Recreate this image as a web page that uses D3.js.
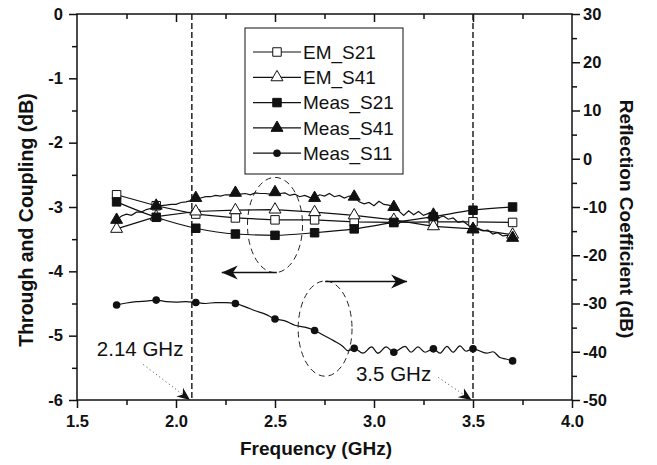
<!DOCTYPE html>
<html>
<head>
<meta charset="utf-8">
<script src="https://d3js.org/d3.v7.min.js"></script>
<style>
  body { margin: 0; background: #fff; }
  text { font-family: "Liberation Sans", Arial, sans-serif; }
</style>
</head>
<body>
<div class="chart"></div>
<script>
// Frequencies of the marker points (GHz)
var freqs = [1.7, 1.9, 2.1, 2.3, 2.5, 2.7, 2.9, 3.1, 3.3, 3.5, 3.7];

// Left axis series (dB)
var emS21   = [-2.81, -2.98, -3.11, -3.17, -3.20, -3.20, -3.23, -3.24, -3.23, -3.23, -3.24];
var emS41   = [-3.34, -3.15, -3.07, -3.05, -3.04, -3.08, -3.13, -3.20, -3.30, -3.34, -3.43];
var measS21 = [-2.92, -3.16, -3.33, -3.42, -3.44, -3.40, -3.34, -3.24, -3.15, -3.05, -3.00];
var measS41 = [-3.20, -2.98, -2.86, -2.78, -2.77, -2.86, -2.84, -3.00, -3.12, -3.35, -3.48];
// Right axis series (dB)
var measS11 = [-30.3, -29.3, -29.8, -30.0, -33.2, -35.6, -39.3, -40.1, -39.4, -39.4, -41.9];

// Dense measured trace of S41 [GHz, dB]
var s41Trace = [
  [1.700,-3.20],[1.725,-3.14],[1.750,-3.11],[1.775,-3.13],[1.800,-3.08],[1.825,-3.08],[1.850,-3.04],[1.875,-3.02],
  [1.900,-2.98],[1.925,-2.98],[1.950,-2.97],[1.975,-2.96],[2.000,-2.96],[2.025,-2.93],[2.050,-2.92],[2.075,-2.90],
  [2.100,-2.86],[2.125,-2.86],[2.150,-2.84],[2.175,-2.84],[2.200,-2.82],[2.225,-2.83],[2.250,-2.81],[2.275,-2.81],
  [2.300,-2.78],[2.325,-2.80],[2.350,-2.79],[2.375,-2.81],[2.400,-2.78],[2.425,-2.79],[2.450,-2.79],[2.475,-2.80],
  [2.500,-2.77],[2.525,-2.79],[2.550,-2.78],[2.575,-2.82],[2.600,-2.80],[2.625,-2.84],[2.650,-2.82],[2.675,-2.85],
  [2.700,-2.86],[2.725,-2.81],[2.750,-2.83],[2.775,-2.79],[2.800,-2.84],[2.825,-2.82],[2.850,-2.86],[2.875,-2.83],
  [2.900,-2.84],[2.925,-2.92],[2.950,-2.95],[2.975,-2.93],[3.000,-2.98],[3.025,-2.91],[3.050,-2.96],[3.075,-2.97],
  [3.100,-3.00],[3.125,-3.06],[3.150,-3.13],[3.175,-3.06],[3.200,-3.12],[3.225,-3.07],[3.250,-3.13],[3.275,-3.10],
  [3.300,-3.12],[3.325,-3.17],[3.350,-3.14],[3.375,-3.19],[3.400,-3.17],[3.425,-3.24],[3.450,-3.22],[3.475,-3.28],
  [3.500,-3.35],[3.525,-3.33],[3.550,-3.37],[3.575,-3.36],[3.600,-3.42],[3.625,-3.40],[3.650,-3.45],[3.675,-3.44],
  [3.700,-3.48]
];

// Dense measured trace of S11 [GHz, dB]
var s11Trace = [
  [1.70,-30.3],[1.75,-29.9],[1.80,-29.6],[1.85,-29.5],[1.90,-29.3],[1.95,-29.6],[2.00,-29.7],[2.05,-29.6],
  [2.10,-29.8],[2.15,-30.0],[2.20,-29.8],[2.25,-29.8],[2.30,-30.0],[2.35,-30.7],[2.40,-31.5],[2.45,-32.2],
  [2.50,-33.2],[2.55,-33.6],[2.60,-34.5],[2.65,-34.9],[2.70,-35.6],[2.75,-36.7],[2.80,-37.8],[2.84,-38.8],
  [2.87,-39.8],[2.90,-39.3],[2.944,-40.3],[2.988,-39.0],[3.020,-40.3],[3.061,-39.0],[3.100,-40.1],[3.157,-38.9],
  [3.187,-40.1],[3.222,-39.0],[3.258,-40.1],[3.300,-39.4],[3.333,-40.3],[3.369,-38.9],[3.399,-40.1],[3.434,-38.8],
  [3.465,-39.9],[3.500,-39.4],[3.569,-40.3],[3.601,-40.0],[3.636,-41.2],[3.667,-41.5],[3.700,-41.9]
];

// Axis ticks
var xTicks = [1.5, 2.0, 2.5, 3.0, 3.5, 4.0];
var yLeftTicks = [0, -1, -2, -3, -4, -5, -6];
var yRightTicks = [30, 20, 10, 0, -10, -20, -30, -40, -50];

// Legend
var legendNames = ["EM_S21", "EM_S41", "Meas_S21", "Meas_S41", "Meas_S11"];

// SVG area
var svgWidth = 657;
var svgHeight = 465;
var margin = { top: 14, right: 85, bottom: 65, left: 77 };
var width = svgWidth - margin.left - margin.right;
var height = svgHeight - margin.top - margin.bottom;

var svg = d3.select(".chart")
  .append("svg")
  .attr("width", svgWidth)
  .attr("height", svgHeight);

var chartGroup = svg.append("g")
  .attr("transform", `translate(${margin.left}, ${margin.top})`);

// Scales
var x = d3.scaleLinear().domain([1.5, 4.0]).range([0, width]);
var yL = d3.scaleLinear().domain([-6, 0]).range([height, 0]);
var yR = d3.scaleLinear().domain([-50, 30]).range([height, 0]);

var ink = "#111";

// Axes
function styleAxis(g) {
  g.select(".domain").remove();
  g.selectAll("line").attr("stroke", ink).attr("stroke-width", 1.5);
  g.selectAll("text")
    .attr("font-size", "16.5px")
    .attr("font-weight", "bold")
    .attr("fill", ink);
}
var fmt1 = d3.format(".1f");
var fmtInt = d => String(d);   // plain hyphen minus like the original

chartGroup.append("g")
  .attr("transform", `translate(0, ${height})`)
  .call(d3.axisBottom(x).tickValues(xTicks).tickFormat(fmt1).tickSize(8).tickPadding(7))
  .call(styleAxis);
chartGroup.append("g")
  .attr("transform", `translate(0, ${height})`)
  .call(d3.axisBottom(x).tickValues(d3.range(1.75, 4, 0.5)).tickFormat("").tickSize(5))
  .call(styleAxis);
// top axis, ticks inward
chartGroup.append("g")
  .call(d3.axisBottom(x).tickValues(xTicks.slice(1, -1)).tickFormat("").tickSize(8))
  .call(styleAxis);
chartGroup.append("g")
  .call(d3.axisBottom(x).tickValues(d3.range(1.75, 4, 0.5)).tickFormat("").tickSize(5))
  .call(styleAxis);

chartGroup.append("g")
  .call(d3.axisLeft(yL).tickValues(yLeftTicks).tickFormat(fmtInt).tickSize(8).tickPadding(6))
  .call(styleAxis);
chartGroup.append("g")
  .call(d3.axisLeft(yL).tickValues(d3.range(-5.5, 0, 1)).tickFormat("").tickSize(5))
  .call(styleAxis);

chartGroup.append("g")
  .attr("transform", `translate(${width}, 0)`)
  .call(d3.axisRight(yR).tickValues(yRightTicks).tickFormat(fmtInt).tickSize(8).tickPadding(3))
  .call(styleAxis);
chartGroup.append("g")
  .attr("transform", `translate(${width}, 0)`)
  .call(d3.axisRight(yR).tickValues(d3.range(-45, 30, 10)).tickFormat("").tickSize(5))
  .call(styleAxis);

// frame
chartGroup.append("rect")
  .attr("width", width).attr("height", height)
  .attr("fill", "none").attr("stroke", ink).attr("stroke-width", 1.5);

// Dashed frequency markers
[2.08, 3.5].forEach(function(f) {
  chartGroup.append("line")
    .attr("x1", x(f)).attr("x2", x(f))
    .attr("y1", 0).attr("y2", height)
    .attr("stroke", "#222").attr("stroke-width", 1.5)
    .attr("stroke-dasharray", "6,3");
});

// Lines
var lineL = d3.line().x((d, i) => x(freqs[i])).y(d => yL(d));
var traceL = d3.line().x(d => x(d[0])).y(d => yL(d[1]));
var traceR = d3.line().x(d => x(d[0])).y(d => yR(d[1])).curve(d3.curveMonotoneX);

function addPath(dStr) {
  chartGroup.append("path")
    .attr("d", dStr)
    .attr("fill", "none")
    .attr("stroke", ink)
    .attr("stroke-width", 1.2);
}
addPath(lineL(emS21));
addPath(lineL(emS41));
addPath(lineL.curve(d3.curveMonotoneX)(measS21));
addPath(traceL(s41Trace));
addPath(traceR(s11Trace));

// Markers
var sq = d3.symbol().type(d3.symbolSquare).size(72);
var tri = d3.symbol().type(d3.symbolTriangle).size(62);

function addMarkers(vals, yScale, gen, fill) {
  chartGroup.selectAll(null)
    .data(vals)
    .enter()
    .append("path")
    .attr("d", gen)
    .attr("transform", (d, i) => `translate(${x(freqs[i])}, ${yScale(d)})`)
    .attr("fill", fill)
    .attr("stroke", ink)
    .attr("stroke-width", 1);
}
addMarkers(emS21, yL, sq(), "#fff");
addMarkers(emS41, yL, tri(), "#fff");
addMarkers(measS21, yL, sq(), ink);
addMarkers(measS41, yL, tri(), ink);
chartGroup.selectAll(null)
  .data(measS11)
  .enter()
  .append("circle")
  .attr("cx", (d, i) => x(freqs[i]))
  .attr("cy", d => yR(d))
  .attr("r", 3.8)
  .attr("fill", ink);

// Dashed ellipses
function ellipse(cf, cv, rxF, ryV) {
  chartGroup.append("ellipse")
    .attr("cx", x(cf)).attr("cy", yL(cv))
    .attr("rx", x(cf + rxF) - x(cf)).attr("ry", yL(cv - ryV) - yL(cv))
    .attr("fill", "none").attr("stroke", "#222").attr("stroke-width", 1)
    .attr("stroke-dasharray", "6,4");
}
ellipse(2.5, -3.28, 0.139, 0.74);
ellipse(2.753, -4.89, 0.136, 0.74);

// Arrows
function arrowHead(px, py, ang, len, half) {
  var p = [[0, 0], [-len, -half], [-len * 0.7, 0], [-len, half]];
  chartGroup.append("path")
    .attr("d", "M" + p.map(q => q.join(",")).join("L") + "Z")
    .attr("transform", `translate(${px}, ${py}) rotate(${ang})`)
    .attr("fill", ink);
}
function arrow(f1, v1, f2, v2, dotted, len, half) {
  var x1 = x(f1), y1 = yL(v1), x2 = x(f2), y2 = yL(v2);
  var ang = Math.atan2(y2 - y1, x2 - x1) * 180 / Math.PI;
  chartGroup.append("line")
    .attr("x1", x1).attr("y1", y1).attr("x2", x2).attr("y2", y2)
    .attr("stroke", dotted ? "#444" : ink)
    .attr("stroke-width", dotted ? 1 : 1.5)
    .attr("stroke-dasharray", dotted ? "1,3" : null);
  arrowHead(x2, y2, ang, len, half);
}
arrow(2.509, -4.02, 2.231, -4.02, false, 16, 7);
arrow(2.753, -4.157, 3.167, -4.157, false, 16, 7);
arrow(1.835, -5.45, 2.071, -6.0, true, 13, 5.5);
arrow(3.325, -5.65, 3.493, -6.0, true, 13, 5.5);

// Annotation text
chartGroup.append("text")
  .attr("x", x(1.6)).attr("y", yL(-5.32))
  .attr("font-size", "20.5px").attr("fill", ink)
  .text("2.14 GHz");
chartGroup.append("text")
  .attr("x", x(2.909)).attr("y", yL(-5.71))
  .attr("font-size", "20.5px").attr("fill", ink)
  .text("3.5 GHz");

// Legend
var legend = svg.append("g").attr("transform", "translate(245, 28)");
legend.append("rect")
  .attr("width", 158).attr("height", 146)
  .attr("fill", "#fff").attr("stroke", ink).attr("stroke-width", 1);
var legendGens = [sq(), tri(), sq(), tri(), null];
var legendFills = ["#fff", "#fff", ink, ink, ink];
legendNames.forEach(function(name, i) {
  var ly = 24 + i * 25.3;
  legend.append("line")
    .attr("x1", 8).attr("x2", 56).attr("y1", ly).attr("y2", ly)
    .attr("stroke", ink).attr("stroke-width", 1.2);
  if (legendGens[i]) {
    legend.append("path")
      .attr("d", legendGens[i])
      .attr("transform", `translate(32, ${ly})`)
      .attr("fill", legendFills[i]).attr("stroke", ink);
  } else {
    legend.append("circle").attr("cx", 32).attr("cy", ly).attr("r", 3.8).attr("fill", ink);
  }
  legend.append("text")
    .attr("x", 58).attr("y", ly + 6.8)
    .attr("font-size", "19px").attr("fill", ink)
    .text(name);
});

// Axis titles
svg.append("text")
  .attr("text-anchor", "middle")
  .attr("font-weight", "bold")
  .attr("font-size", "19px")
  .attr("fill", ink)
  .attr("x", 316).attr("y", 455)
  .text("Frequency (GHz)");

svg.append("text")
  .attr("text-anchor", "middle")
  .attr("font-weight", "bold")
  .attr("font-size", "19.5px")
  .attr("fill", ink)
  .attr("transform", "translate(33, 220) rotate(-90)")
  .text("Through and Coupling (dB)");

svg.append("text")
  .attr("text-anchor", "middle")
  .attr("font-weight", "bold")
  .attr("font-size", "19px")
  .attr("fill", ink)
  .attr("transform", "translate(620, 219) rotate(90)")
  .text("Reflection Coefficient (dB)");
</script>
</body>
</html>
